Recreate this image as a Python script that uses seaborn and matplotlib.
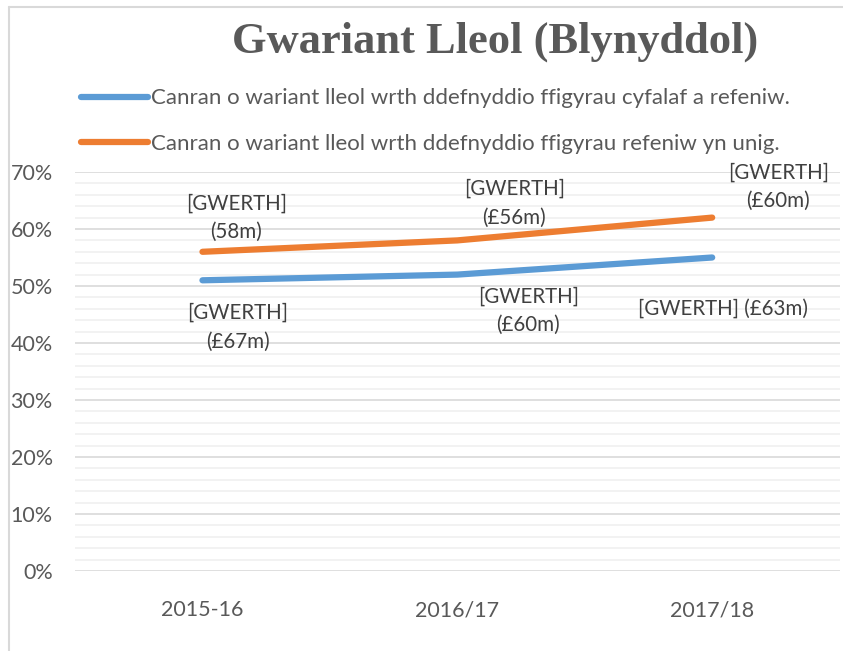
import pandas as pd
import matplotlib.pyplot as plt
import matplotlib.lines as mlines
from matplotlib.ticker import MultipleLocator, PercentFormatter
import seaborn as sns

# values
years = ["2015-16", "2016/17", "2017/18"]
series_names = ["Canran o wariant lleol wrth ddefnyddio ffigyrau cyfalaf a refeniw.",
                "Canran o wariant lleol wrth ddefnyddio ffigyrau refeniw yn unig."]
cyfalaf_refeniw = [0.51, 0.52, 0.55]
refeniw_unig = [0.56, 0.58, 0.62]
labels_blue = ["[GWERTH]\n(£67m)", "[GWERTH]\n(£60m)", "[GWERTH] (£63m)"]
labels_orange = ["[GWERTH]\n(58m)", "[GWERTH]\n(£56m)", "[GWERTH]\n(£60m)"]

df = pd.DataFrame({
    "year": years * 2,
    "pos": list(range(len(years))) * 2,
    "value": cyfalaf_refeniw + refeniw_unig,
    "series": [series_names[0]] * 3 + [series_names[1]] * 3,
})

sns.set_theme(style="white")
plt.rcParams['font.family'] = ['Lato', 'DejaVu Sans']
grey = "#595959"
colors = {series_names[0]: "#5b9bd5", series_names[1]: "#ed7d31"}

fig = plt.figure(figsize=(8.43, 6.51), dpi=100)
ax = fig.add_axes([0.089, 0.1229, 0.907, 0.6129])

sns.lineplot(data=df, x="pos", y="value", hue="series", palette=colors,
             linewidth=4.5, solid_capstyle="round", legend=False, ax=ax)

ax.set_xlim(-0.5, 2.5)
ax.set_ylim(0, 0.7)
ax.set_xticks(range(len(years)))
ax.set_xticklabels(years)
ax.yaxis.set_major_locator(MultipleLocator(0.1))
ax.yaxis.set_minor_locator(MultipleLocator(0.02))
ax.yaxis.set_major_formatter(PercentFormatter(1.0, decimals=0))
ax.grid(which="major", axis="y", color="#d9d9d9", linewidth=1.2)
ax.grid(which="minor", axis="y", color="#f0f0f0", linewidth=1.2)
ax.set_axisbelow(True)
for s in ax.spines.values():
    s.set_visible(False)
ax.tick_params(axis="y", which="both", length=0, pad=16, labelsize=15.5, labelcolor=grey)
ax.tick_params(axis="x", length=0, pad=21, labelsize=15.5, labelcolor=grey)
ax.set_xlabel("")
ax.set_ylabel("")

# data labels (offsets in pixels)
off_blue = [(35, -47), (71, -36), (11, -51)]
off_orange = [(34, 34), (57, 37), (66, 31)]
for i in range(len(years)):
    ax.annotate(labels_blue[i], (i, cyfalaf_refeniw[i]), xytext=off_blue[i],
                textcoords="offset pixels", ha="center", va="center",
                fontsize=14.8, color="#404040", linespacing=1.55)
    ax.annotate(labels_orange[i], (i, refeniw_unig[i]), xytext=off_orange[i],
                textcoords="offset pixels", ha="center", va="center",
                fontsize=14.8, color="#404040", linespacing=1.55)

fig.text(0.587, 0.936, "Gwariant Lleol (Blynyddol)", ha="center", va="center",
         fontsize=32, fontweight="bold", color=grey, family="Liberation Serif")

# legend
handles = [mlines.Line2D([], [], color=colors[n], linewidth=4.5, solid_capstyle="round")
           for n in series_names]
fig.legend(handles, series_names, loc="upper left", bbox_to_anchor=(0.086, 0.878),
           frameon=False, fontsize=16, labelcolor=grey, handlelength=3.0,
           handletextpad=0.15, labelspacing=1.14, borderaxespad=0)

# chart frame
fig.add_artist(mlines.Line2D([0.011, 0.011], [0, 0.99], transform=fig.transFigure,
                             color="#d9d9d9", linewidth=1.5))
fig.add_artist(mlines.Line2D([0.011, 1], [0.99, 0.99], transform=fig.transFigure,
                             color="#d9d9d9", linewidth=1.5))

fig.savefig("out.png", dpi=100)
